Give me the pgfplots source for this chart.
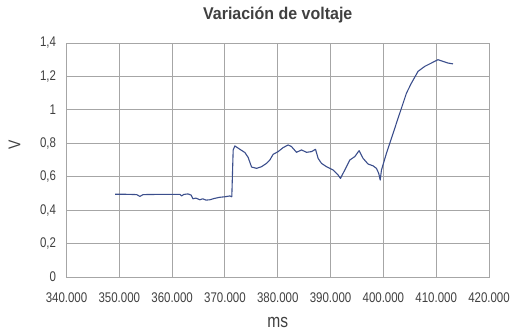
\documentclass[border=0pt]{standalone}
\usepackage{fontspec}
\setmainfont{Liberation Sans}
\newfontfamily\narrowfont{Liberation Sans}[FakeStretch=0.82]
\newfontfamily\titlefont{Liberation Sans}[FakeStretch=0.94]
\usepackage{pgfplots}
\pgfplotsset{compat=1.18}
\definecolor{gridgray}{HTML}{A6A6A6}
\definecolor{txtgray}{HTML}{404040}
\definecolor{linecol}{HTML}{3B4E8C}
\begin{document}
\begin{tikzpicture}
\path[use as bounding box] (0,0) rectangle (517pt,336pt);
\begin{axis}[
  at={(66.5pt,59pt)}, anchor=south west,
  scale only axis, width=422.5pt, height=234pt,
  xmin=340000, xmax=420000, ymin=0, ymax=1.4,
  xtick={340000,350000,...,420000},
  ytick={0,0.2,...,1.4},
  grid=major,
  major grid style={gridgray, line width=0.9pt},
  axis line style={gridgray, line width=0.9pt},
  tick style={draw=none},
  /pgf/number format/assume math mode=true,
  x tick label style={font=\narrowfont\fontsize{14}{14}\selectfont, text=txtgray, yshift=-12pt, /pgf/number format/fixed, /pgf/number format/1000 sep={.}},
  y tick label style={font=\narrowfont\fontsize{14}{14}\selectfont, text=txtgray, xshift=-7pt, /pgf/number format/fixed, /pgf/number format/use comma, /pgf/number format/1000 sep={}},
  scaled x ticks=false,
  title={Variación de voltaje},
  title style={font=\titlefont\bfseries\fontsize{17}{17}\selectfont, text=txtgray, at={(0.5,1)}, anchor=center, yshift=22pt},
  xlabel={ms},
  xlabel style={font=\narrowfont\fontsize{19}{19}\selectfont, text=txtgray, at={(0.5,0)}, anchor=center, yshift=-45pt},
  ylabel={V},
  ylabel style={font=\narrowfont\fontsize{17}{17}\selectfont, text=txtgray, at={(0,0.5)}, anchor=center, yshift=52pt, xshift=15pt},
]
\addplot[linecol, line width=1.1pt, line join=round] coordinates {
(349200,0.495) (351000,0.495) (353300,0.493) (353900,0.482) (354500,0.493)
(357000,0.494) (360000,0.494) (361500,0.494) (361800,0.485) (362200,0.494)
(363000,0.497) (363600,0.49) (363930,0.468) (364500,0.472) (365260,0.462)
(365800,0.468) (366400,0.46) (367150,0.462) (368000,0.47) (369040,0.477)
(370000,0.48) (370930,0.485) (371300,0.48) (371560,0.76) (371880,0.784)
(372300,0.775) (372830,0.764) (373770,0.745) (374400,0.715) (375040,0.658)
(375990,0.650) (376930,0.66) (377880,0.68) (378500,0.70) (379130,0.734)
(380070,0.75) (381020,0.774) (381970,0.79) (382610,0.78) (383550,0.746)
(384500,0.76) (385450,0.746) (386390,0.75) (387150,0.764) (387640,0.71)
(388280,0.68) (389230,0.66) (390480,0.64) (391430,0.61) (391880,0.59)
(392690,0.64) (393640,0.70) (394580,0.72) (395400,0.756) (396150,0.71)
(397100,0.676) (398050,0.665) (398690,0.65) (399120,0.62) (399400,0.58)
(399640,0.64) (400580,0.74) (401530,0.83) (402470,0.92) (403420,1.01)
(404370,1.10) (405310,1.16) (406560,1.23) (407830,1.26) (409090,1.28)
(410340,1.30) (411290,1.29) (412240,1.28) (413180,1.275)
};
\end{axis}
\end{tikzpicture}
\end{document}
